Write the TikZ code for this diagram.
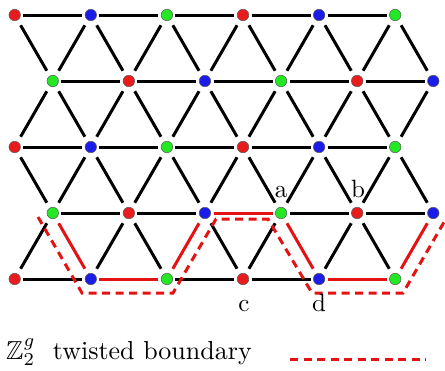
\documentclass[tikz,border=0pt]{standalone}
\usepackage{amssymb}
\usepackage{graphicx}
\definecolor{col0}{RGB}{232,28,28}
\definecolor{col1}{RGB}{28,28,232}
\definecolor{col2}{RGB}{36,232,36}
\definecolor{redline}{RGB}{228,18,18}
\begin{document}
\begin{tikzpicture}[x=1pt,y=-1pt,
  vtx/.style={circle, draw=black!65, line width=0.5pt, minimum size=11.5pt, inner sep=0pt, outer sep=2.8pt},
  edge/.style={line width=3pt, black},
  diag/.style={shorten <=3.3pt, shorten >=3.3pt},
  redge/.style={line width=3pt, redline},
  bdry/.style={redline, line width=3pt, dash pattern=on 8pt off 5.5pt},
  lbl/.style={inner sep=0pt, anchor=base},
  legend/.style={inner sep=0pt, anchor=base west}]
\useasboundingbox (0,0) rectangle (445,370);
% vertices
\foreach \r in {0,...,4}{
  \foreach \c in {0,...,5}{
    \pgfmathtruncatemacro\ci{mod(\c+2*mod(\r,2),3)}
    \pgfmathsetmacro\xx{14.7+76.1*\c+38.05*mod(\r,2)}
    \pgfmathsetmacro\yy{15+66*\r}
    \node[vtx, fill=col\ci] (n-\r-\c) at (\xx,\yy) {};
  }
}
% horizontal black edges
\foreach \r in {0,...,4}{
  \foreach \c in {0,...,4}{
    \pgfmathtruncatemacro\cn{\c+1}
    \pgfmathtruncatemacro\isred{(\r==4 && (\c==1 || \c==4)) || (\r==3 && \c==2)}
    \ifnum\isred=0 \draw[edge] (n-\r-\c) -- (n-\r-\cn); \fi
  }
}
% diagonal black edges
\foreach \r in {0,...,3}{
  \pgfmathtruncatemacro\rn{\r+1}
  \pgfmathtruncatemacro\ev{mod(\r,2)==0 ? \r : \rn}
  \pgfmathtruncatemacro\od{mod(\r,2)==0 ? \rn : \r}
  \foreach \c in {0,...,5}{
    \pgfmathtruncatemacro\isred{\r==3 && (\c==2 || \c==5)}
    \ifnum\isred=0 \draw[edge,diag] (n-\ev-\c) -- (n-\od-\c); \fi
  }
  \foreach \c in {0,...,4}{
    \pgfmathtruncatemacro\cn{\c+1}
    \pgfmathtruncatemacro\isred{\r==3 && (\c==0 || \c==3)}
    \ifnum\isred=0 \draw[edge,diag] (n-\ev-\cn) -- (n-\od-\c); \fi
  }
}
% red edges
\draw[redge,diag] (n-3-0) -- (n-4-1);
\draw[redge] (n-4-1) -- (n-4-2);
\draw[redge,diag] (n-4-2) -- (n-3-2);
\draw[redge] (n-3-2) -- (n-3-3);
\draw[redge,diag] (n-3-3) -- (n-4-4);
\draw[redge] (n-4-4) -- (n-4-5);
\draw[redge,diag] (n-4-5) -- (n-3-5);
% twisted boundary
\draw[bdry] (38,217) -- (82,293) -- (173,293) -- (216,219) -- (268,219) -- (312,293) -- (403,293) -- (447,217);
% labels
\node[lbl] (la) at (281,197) {\scalebox{2.5}{a}};
\node[lbl] (lb) at (358,197) {\scalebox{2.5}{b}};
\node[lbl] (lc) at (244,311) {\scalebox{2.5}{c}};
\node[lbl] (ld) at (319,311) {\scalebox{2.5}{d}};
% legend
\node[legend] (leg) at (6,359) {\scalebox{2.6}{$\mathbb{Z}_2^g$\hspace{3.3pt} twisted boundary}};
\coordinate (l1) at (290,359);
\coordinate (l2) at (426,359);
\draw[bdry] (l1) -- (l2);
\end{tikzpicture}
\end{document}
